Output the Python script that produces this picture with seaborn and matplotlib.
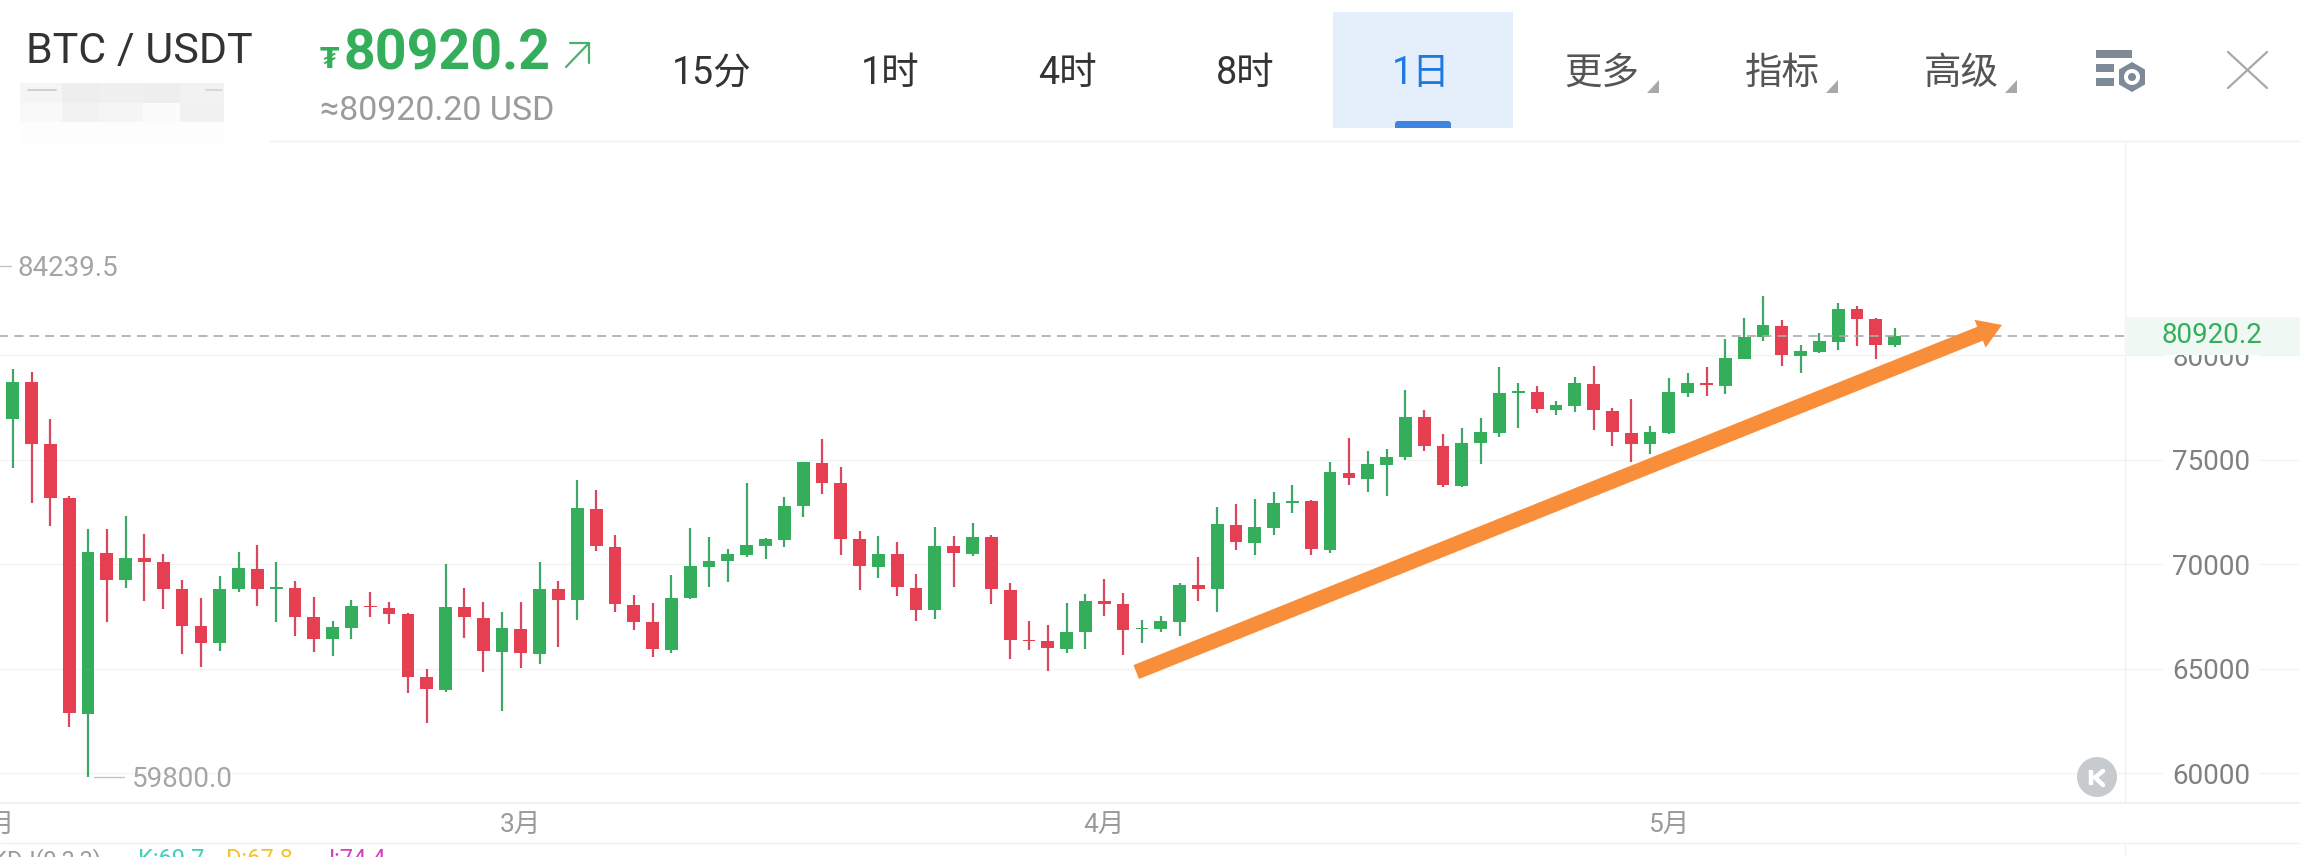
import seaborn as sns
import matplotlib.pyplot as plt
import pandas as pd
from matplotlib.patches import Rectangle, Circle, RegularPolygon, Polygon, FancyBboxPatch

# daily candles. first one is the half hidden candle on the left edge
days = list(range(-1, 101))
opens = [76920, 76920, 78690, 75730, 73140, 62840, 70530, 69220, 70290, 70100,
         68790, 67030, 66200, 68790, 69780, 68820, 68840, 67450, 66400, 66950,
         68010, 67900, 67590, 64590, 63990, 67940, 67420, 65810, 66910, 65710,
         68790, 68260, 72630, 70830, 68050, 67210, 65900, 68360, 69870, 70130,
         70450, 70880, 71170, 72760, 74830, 73860, 71180, 69870, 70460, 68850,
         67800, 70850, 70500, 71280, 68760, 66380, 66300, 65930, 66750, 68210,
         68070, 66870, 66890, 67240, 69000, 68790, 71870, 71020, 71740, 72900,
         73000, 70690, 74370, 74080, 74750, 75100, 77020, 75650, 73730, 75770,
         76280, 78200, 78210, 77390, 77580, 78610, 77340, 76280, 75740, 76280,
         78180, 78660, 78530, 79830, 80880, 81390, 79970, 80160, 80640, 82190,
         81710, 80460]
highs = [79000, 79330, 79170, 76940, 73270, 71690, 71660, 72300, 71420, 70480,
         69240, 68370, 69440, 70560, 70930, 70100, 69200, 68410, 67270, 68260,
         68650, 68200, 67640, 64960, 69990, 68840, 68170, 67700, 68170, 70080,
         69200, 74040, 73540, 71370, 68500, 68150, 69470, 71740, 71280, 70730,
         73860, 71240, 73190, 74870, 76000, 74630, 71560, 71320, 71050, 69540,
         71770, 71360, 71980, 71390, 69110, 67260, 67070, 68130, 68580, 69270,
         68610, 67310, 67530, 69080, 70320, 72730, 72860, 73110, 73430, 73760,
         73080, 74870, 76010, 75420, 75490, 78310, 77370, 76210, 76520, 76970,
         79440, 78650, 78530, 77820, 78960, 79460, 77450, 77880, 76620, 78880,
         79140, 79410, 80770, 81760, 82840, 81680, 80460, 81040, 82470, 82360,
         81760, 81280]
lows = [76500, 74580, 72900, 71830, 62220, 59800, 67240, 68840, 68250, 67860,
        65710, 65070, 65820, 68680, 68010, 67240, 66570, 65810, 65580, 66400,
        67480, 67150, 63840, 62380, 63860, 66440, 64850, 62950, 65010, 65230,
        66050, 67320, 70610, 67700, 66830, 65550, 65760, 68330, 68920, 69140,
        70350, 70260, 70810, 72230, 73330, 70450, 68740, 69350, 68490, 67290,
        67390, 68880, 70380, 68100, 65470, 65870, 64900, 65740, 65920, 67530,
        65650, 66240, 66730, 66570, 68210, 67690, 70670, 70430, 71390, 72460,
        70450, 70510, 73760, 73460, 73270, 74980, 75410, 73700, 73670, 74800,
        76090, 76520, 77210, 77110, 77290, 76410, 75650, 74880, 75280, 76220,
        77990, 78060, 78150, 79800, 80670, 79480, 79160, 80110, 80260, 80420,
        79830, 80400]
closes = [78720, 78720, 75760, 73140, 62860, 70560, 69250, 70290, 70110, 68800,
          67050, 66240, 68820, 69790, 68800, 68900, 67480, 66410, 66970, 67980,
          67930, 67610, 64610, 64000, 67960, 67450, 65840, 66940, 65740, 68800,
          68290, 72660, 70860, 68090, 67230, 65920, 68390, 69900, 70140, 70460,
          70890, 71180, 72780, 74870, 73890, 71210, 69890, 70480, 68880, 67820,
          70880, 70530, 71310, 68790, 66360, 66320, 65970, 66760, 68230, 68090,
          66860, 66950, 67270, 69000, 68800, 71900, 71040, 71760, 72920, 73030,
          70720, 74400, 74120, 74790, 75120, 77050, 75660, 73760, 75810, 76300,
          78170, 78280, 77420, 77610, 78650, 77350, 76320, 75760, 76320, 78210,
          78680, 78570, 79840, 80880, 81420, 80000, 80180, 80660, 82200, 81740,
          80500, 80920.2]

last_price = 80920.2
high_price = 84239.5
low_price = 59800.0
price_ticks = [60000, 65000, 70000, 75000, 80000]
month_days = [-1, 27, 58, 88]
month_names = ["2月", "3月", "4月", "5月"]
trend_days = [59.7, 105.7]
trend_prices = [64830, 81440]

nav_labels = ["15分", "1时", "4时", "8时", "1日", "更多", "指标", "高级"]
nav_x = [712, 890, 1067, 1245, 1421, 1602, 1782, 1961]

GREEN = "#34ae5b"
RED = "#e63f52"
W, H = 2300, 857


def day_at(px):
    # screen pixel to candle index
    return (px - 12.7) / 18.82


sns.set_theme(style="white")
plt.rcParams["font.family"] = ["Roboto", "Noto Sans CJK SC", "DejaVu Sans"]

df = pd.DataFrame({"day": days, "open": opens, "high": highs, "low": lows, "close": closes})
df["body"] = (df["close"] - df["open"]).abs()
df["base"] = df[["open", "close"]].min(axis=1)
up = df[df["close"] >= df["open"]]
down = df[df["close"] < df["open"]]

fig = plt.figure(figsize=(W / 100, H / 100), dpi=100, facecolor="white")
# chart axes stick out 50px on the left so that the february label gets cut by the figure edge
ax = fig.add_axes([-50 / W, (H - 803) / H, (W + 50) / W, (803 - 141) / H])

ax.vlines(up["day"], up["low"], up["high"], color="#3fa765", lw=1.6, zorder=3)
ax.vlines(down["day"], down["low"], down["high"], color="#d8485c", lw=1.6, zorder=3)
sns.barplot(data=up, x="day", y="body", bottom=up["base"].values, native_scale=True, width=0.68,
            color=GREEN, saturation=1, errorbar=None, linewidth=0, zorder=3, ax=ax)
sns.barplot(data=down, x="day", y="body", bottom=down["base"].values, native_scale=True, width=0.68,
            color=RED, saturation=1, errorbar=None, linewidth=0, zorder=3, ax=ax)

ax.set_xlim(day_at(-50), day_at(W))
ax.set_ylim(58565, 90241)
ax.set_xlabel("")
ax.set_ylabel("")

ax.set_xticks(month_days)
ax.set_xticklabels(month_names)
ax.tick_params(axis="x", length=0, labelsize=19, labelcolor="#9a9a9a", pad=7.5)
ax.yaxis.tick_right()
ax.set_yticks(price_ticks)
ax.set_yticklabels([str(p) for p in price_ticks])
ax.tick_params(axis="y", length=0, labelsize=20, labelcolor="#808080", pad=-92)
for lab in ax.get_yticklabels():
    lab.set_bbox(dict(facecolor="white", edgecolor="none", pad=6))

ax.grid(axis="y", color="#f3f3f3", lw=0.9)
ax.set_axisbelow(True)
for side in ["top", "left", "right"]:
    ax.spines[side].set_visible(False)
ax.spines["bottom"].set_color("#f0f0f0")
ax.axvline(day_at(2125), color="#f2f2f2", lw=1)

# last price line and its label on the right
ax.plot([day_at(-50), day_at(2125)], [last_price, last_price], color="#aaaaaa", lw=1.2,
        ls=(0, (5.5, 3.7)), zorder=4)
ax.add_patch(Rectangle((day_at(2125), 80000), day_at(W) - day_at(2125), 1820, facecolor="#eff8f2",
                       edgecolor="none", zorder=5))
ax.text(day_at(2212), last_price, "80920.2", color=GREEN, fontsize=20, ha="center", va="center", zorder=6)

# high / low labels
ax.plot([-2, day_at(11)], [high_price, high_price], color="#c4c4c4", lw=1)
ax.text(day_at(17), high_price - 100, "84239.5", color="#a5a5a5", fontsize=20, va="center")
ax.plot([day_at(94), day_at(124)], [low_price, low_price], color="#c4c4c4", lw=1)
ax.text(day_at(132), low_price - 130, "59800.0", color="#a5a5a5", fontsize=20, va="center")

# hand drawn orange arrow
ax.annotate("", xy=(trend_days[1], trend_prices[1]), xytext=(trend_days[0], trend_prices[0]),
            arrowprops=dict(arrowstyle="simple,head_length=0.85,head_width=1.08,tail_width=0.54",
                            mutation_scale=20, color="#f98e3a", lw=0, shrinkA=0, shrinkB=0),
            zorder=7)

# everything around the chart is drawn on a pixel axes on top
ui = fig.add_axes([0, 0, 1, 1])
ui.set_xlim(0, W)
ui.set_ylim(H, 0)
ui.axis("off")
ui.patch.set_alpha(0)

ui.plot([270, W], [141, 141], color="#f0f0f0", lw=1)
ui.plot([0, W], [843, 843], color="#f0f0f0", lw=1)
ui.plot([2125, 2125], [843, H], color="#f2f2f2", lw=1)

ui.text(26, 51, "BTC / USDT", fontsize=31, color="#333333", va="center")

# pixelated patch under the pair name, a bit of the hidden subtitle still shows at its top
blur_x = [20, 62, 99, 143, 180, 224]
blur_y = [83, 103, 122]
blur_c = [["#f5f5f5", "#eeeeee", "#f0f0f0", "#eeeeee", "#f2f2f2"],
          ["#f9f9f9", "#f2f2f2", "#f5f5f5", "#fbfbfb", "#f1f1f1"]]
for r, row in enumerate(blur_c):
    for c, col in enumerate(row):
        ui.add_patch(Rectangle((blur_x[c], blur_y[r]), blur_x[c + 1] - blur_x[c], blur_y[r + 1] - blur_y[r],
                               facecolor=col, edgecolor="none"))
ui.add_patch(Rectangle((20, 122), 204, 22, facecolor="#fdfdfd", edgecolor="none"))
ui.plot([28, 56], [90, 90], color="#c8c8c8", lw=1.2)
ui.plot([206, 222], [90, 90], color="#d2d2d2", lw=1.2)

ui.text(320, 68, "₮", fontsize=20, color=GREEN, fontfamily="DejaVu Sans", fontweight="bold", va="baseline")
ui.text(343, 69, "80920.2", fontsize=40, color=GREEN, fontweight="bold", va="baseline")
ui.plot([566, 589], [67, 43], color="#4caf70", lw=1.6)
ui.plot([570, 589, 589], [43, 43, 63], color="#4caf70", lw=1.6)
ui.text(320, 111, "≈80920.20 USD", fontsize=24.5, color="#9b9b9b", va="center")

# selected interval
ui.add_patch(Rectangle((1333, 12), 180, 116, facecolor="#e4effb", edgecolor="none"))
ui.add_patch(FancyBboxPatch((1398, 124), 50, 4, boxstyle="round,pad=3", facecolor="#3f85e0", edgecolor="none"))
ui.add_patch(Rectangle((1333, 128), 180, 6, facecolor="white", edgecolor="none"))

for i, (lab, x) in enumerate(zip(nav_labels, nav_x)):
    col = "#333333"
    if lab == "1日":
        col = "#1f7ae0"
    elif i > 4:
        col = "#555555"
    ui.text(x, 73, lab, fontsize=27, color=col, ha="center", va="center")

# small corner triangles of the menus
for x in [1659, 1838, 2017]:
    ui.add_patch(Polygon([(x, 80), (x, 93), (x - 12, 93)], facecolor="#a8a8a8", edgecolor="none"))

# settings icon
ui.add_patch(Rectangle((2096, 50), 36, 8, facecolor="#7f8a99", edgecolor="none"))
ui.add_patch(Rectangle((2096, 64), 18, 8, facecolor="#7f8a99", edgecolor="none"))
ui.add_patch(Rectangle((2096, 78), 18, 8, facecolor="#7f8a99", edgecolor="none"))
ui.add_patch(RegularPolygon((2132, 77), 6, radius=15, facecolor="#7f8a99", edgecolor="none"))
ui.add_patch(Circle((2132, 77), 8, facecolor="white", edgecolor="none"))
ui.add_patch(Circle((2132, 77), 4, facecolor="#7f8a99", edgecolor="none"))

# close button
ui.plot([2228, 2267], [52, 88], color="#a8a8a8", lw=1.6)
ui.plot([2228, 2267], [88, 52], color="#a8a8a8", lw=1.6)

# round K badge
ui.add_patch(Circle((2097, 777), 20, facecolor="#c8cbce", edgecolor="none"))
ui.plot([2090.5, 2090.5], [770, 785], color="white", lw=3.2, solid_capstyle="butt")
ui.plot([2103, 2095, 2103], [771, 777.5, 785], color="white", lw=3.2)

# kdj row, nearly cut away by the bottom of the picture
kdj_x = [-8, 138, 226, 321]
kdj_text = ["KDJ(9,3,3)", "K:69.7", "D:67.8", "J:74.4"]
kdj_col = ["#9a9a9a", "#3fd0b8", "#f2c230", "#d63fc0"]
for x, t, c in zip(kdj_x, kdj_text, kdj_col):
    ui.text(x, 848, t, fontsize=17, color=c, va="top")

fig.savefig("out.png", dpi=100)
